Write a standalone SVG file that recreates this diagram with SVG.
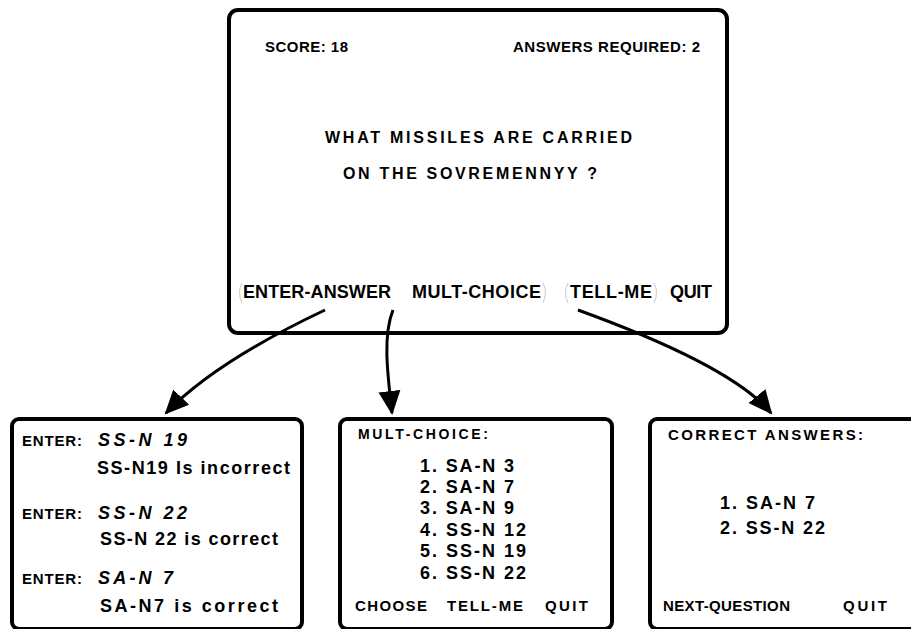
<svg xmlns="http://www.w3.org/2000/svg" width="911" height="629" viewBox="0 0 911 629">
<style>
  .box { fill: #fff; stroke: #000; stroke-width: 4; }
  .t { font-family: "Liberation Sans", Arial, sans-serif; font-weight: bold; fill: #000; }
  .it { font-style: italic; }
  .conn { fill: none; stroke: #000; stroke-width: 3; }
  .paren { fill: none; stroke: #c8c8c8; stroke-width: 1; }
</style>
<defs>
  <marker id="ah" markerUnits="userSpaceOnUse" markerWidth="26" markerHeight="26" viewBox="0 0 26 26" refX="22" refY="13" orient="auto">
    <path d="M0,2 L24,13 L0,24 Z" fill="#000"/>
  </marker>
</defs>
<rect width="911" height="629" fill="#fff"/>

<g id="main-screen">
  <rect class="box" x="229" y="10" width="498" height="323" rx="9"/>
  <text class="t" x="265" y="52" font-size="15" textLength="83">SCORE:  18</text>
  <text class="t" x="513" y="52" font-size="15" textLength="187">ANSWERS REQUIRED: 2</text>
  <text class="t" x="325" y="143" font-size="16" textLength="307">WHAT  MISSILES  ARE  CARRIED</text>
  <text class="t" x="343" y="179" font-size="16" textLength="254">ON  THE  SOVREMENNYY  ?</text>
  <text class="t" x="243" y="298" font-size="18" textLength="148">ENTER-ANSWER</text>
  <text class="t" x="412" y="298" font-size="18" textLength="129">MULT-CHOICE</text>
  <text class="t" x="570" y="298" font-size="18" textLength="82">TELL-ME</text>
  <text class="t" x="670" y="298" font-size="18" textLength="42">QUIT</text>
  <path class="paren" d="M242,283 Q237,292 242,303"/>
  <path class="paren" d="M543,283 Q548,292 543,303"/>
  <path class="paren" d="M568,283 Q563,292 568,303"/>
  <path class="paren" d="M654,283 Q659,292 654,303"/>
</g>

<g id="connectors">
  <path class="conn" d="M325,310 Q215,362 166,413" marker-end="url(#ah)"/>
  <path class="conn" d="M393,310 C383,335 387,370 392,413" marker-end="url(#ah)"/>
  <path class="conn" d="M578,310 Q732,366 771,413" marker-end="url(#ah)"/>
</g>

<g id="enter-answer-screen">
  <rect class="box" x="12" y="419" width="290" height="210" rx="7"/>
  <text class="t" x="22" y="446" font-size="15" textLength="60">ENTER:</text>
  <text class="t it" x="98" y="446" font-size="18" textLength="89">SS-N 19</text>
  <text class="t" x="97" y="474" font-size="18" textLength="193">SS-N19 Is incorrect</text>
  <text class="t" x="22" y="519" font-size="15" textLength="60">ENTER:</text>
  <text class="t it" x="98" y="519" font-size="18" textLength="89">SS-N 22</text>
  <text class="t" x="100" y="545" font-size="18" textLength="178">SS-N 22 is correct</text>
  <text class="t" x="22" y="584" font-size="15" textLength="60">ENTER:</text>
  <text class="t it" x="98" y="584" font-size="18" textLength="75">SA-N 7</text>
  <text class="t" x="100" y="612" font-size="18" textLength="178">SA-N7  is correct</text>
</g>

<g id="mult-choice-screen">
  <rect class="box" x="340" y="419" width="272" height="210" rx="7"/>
  <text class="t" x="358" y="439" font-size="14" textLength="130">MULT-CHOICE:</text>
  <text class="t" x="420" y="472" font-size="18" textLength="94">1.  SA-N 3</text>
  <text class="t" x="420" y="493" font-size="18" textLength="94">2.  SA-N 7</text>
  <text class="t" x="420" y="514" font-size="18" textLength="94">3.  SA-N 9</text>
  <text class="t" x="420" y="536" font-size="18" textLength="106">4.  SS-N 12</text>
  <text class="t" x="420" y="557" font-size="18" textLength="106">5.  SS-N 19</text>
  <text class="t" x="420" y="579" font-size="18" textLength="106">6.  SS-N 22</text>
  <text class="t" x="355" y="611" font-size="15" textLength="72">CHOOSE</text>
  <text class="t" x="447" y="611" font-size="15" textLength="76">TELL-ME</text>
  <text class="t" x="545" y="611" font-size="15" textLength="43">QUIT</text>
</g>

<g id="tell-me-screen">
  <rect class="box" x="650" y="419" width="275" height="210" rx="7"/>
  <text class="t" x="668" y="440" font-size="15" textLength="195">CORRECT ANSWERS:</text>
  <text class="t" x="720" y="509" font-size="18" textLength="95">1.  SA-N 7</text>
  <text class="t" x="720" y="534" font-size="18" textLength="105">2.  SS-N 22</text>
  <text class="t" x="663" y="611" font-size="15" textLength="127">NEXT-QUESTION</text>
  <text class="t" x="843" y="611" font-size="15" textLength="44">QUIT</text>
</g>
</svg>
